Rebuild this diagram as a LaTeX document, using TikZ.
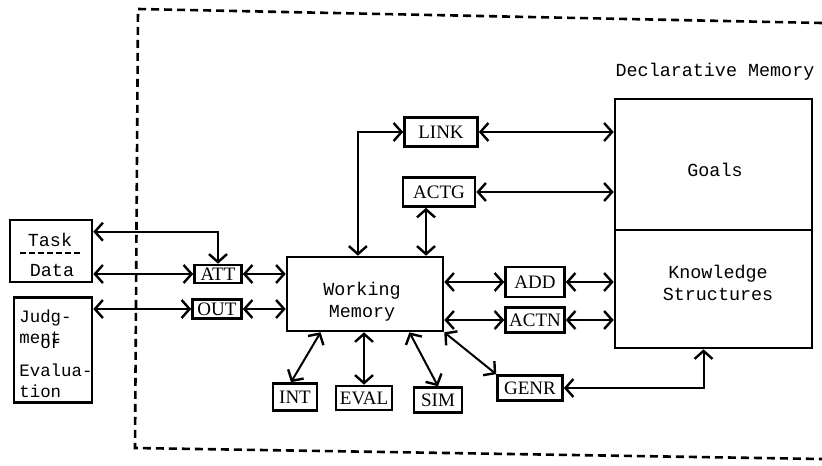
\documentclass[tikz,border=0pt]{standalone}
\usepackage{fontspec}
\setmainfont{Liberation Serif}
\setmonofont{Liberation Mono}
\usetikzlibrary{arrows.meta, calc, positioning}
\tikzset{
	box/.style={draw, line width=1.3pt, inner sep=0pt, font=\fontsize{9.5}{10}\selectfont},
	store/.style={draw, line width=1.3pt, inner sep=0pt},
	txt/.style={inner sep=0pt, font=\ttfamily\fontsize{9.2}{11}\selectfont, align=center},
	line/.style={draw, line width=1pt, {Straight Barb[length=4pt,width=9pt,line width=1.2pt]}-{Straight Barb[length=4pt,width=9pt,line width=1.2pt]}},
	frame/.style={draw, line width=1.3pt, dash pattern=on 4pt off 2.5pt}
}
\begin{document}
\begin{tikzpicture}[x=0.5pt, y=-0.5pt]
		\useasboundingbox (0,0) rectangle (822,465);
		\draw[frame] (822,23) -- (138,9) -- (135,448) -- (822,459);
		% declarative memory
		\node[txt] (dmlab) at (715,72) {Declarative Memory};
		\node[store, minimum width=98.5pt, minimum height=65.5pt] (goals) at (713.5,164.5) {};
		\node[store, minimum width=98.5pt, minimum height=59pt] (know) at (713.5,289) {};
		\node[txt] (goalstext) at (715,170) {Goals};
		\node[txt] (knowtext) at (718,283) {Knowledge\\Structures};
		% working memory and processes
		\node[store, minimum width=78pt, minimum height=37pt] (wm) at (365,294) {};
		\node[txt] (wmtext) at (362,302) {Working\\Memory};
		\node[box, minimum width=36.5pt, minimum height=14.5pt] (link) at (441,132) {LINK};
		\node[box, minimum width=36pt, minimum height=14.5pt] (actg) at (439,192) {ACTG};
		\node[box, minimum width=29.5pt, minimum height=15pt] (add) at (535,282) {ADD};
		\node[box, minimum width=29.5pt, minimum height=12.5pt] (actn) at (535,320) {ACTN};
		\node[box, minimum width=32.5pt, minimum height=12.5pt] (genr) at (530,388) {GENR};
		\node[box, minimum width=22pt, minimum height=13.5pt] (int) at (295,397) {INT};
		\node[box, minimum width=28pt, minimum height=12pt] (eval) at (364,398) {EVAL};
		\node[box, minimum width=24pt, minimum height=12.5pt] (sim) at (438,400) {SIM};
		\node[box, minimum width=23.5pt, minimum height=9pt] (att) at (218,274) {ATT};
		\node[box, minimum width=24.5pt, minimum height=9.5pt] (out) at (217,309) {OUT};
		% environment
		\node[store, minimum width=41pt, minimum height=31pt] (taskbox) at (51,251) {};
		\node[txt] (task) at (50,240) {Task};
		\node[txt] (data) at (52,270) {Data};
		\draw[line width=1pt, dash pattern=on 3pt off 1.5pt] (20,253) -- (82,253);
		\node[store, minimum width=39pt, minimum height=52.5pt] (judg) at (53,350) {};
		\node[txt, align=left, font=\ttfamily\fontsize{8.7}{10.5}\selectfont, anchor=north west] (judgtext) at (19,309)
			{Judg-\\ment\llap{\raisebox{-0.3em}{or}}\\[6pt]Evalua-\\tion};
		% connectors
		\draw[line] (link.east) -- (link.east -| goals.west);
		\draw[line] (link.west) -| ($(wm.north west)!0.455!(wm.north east)$);
		\draw[line] (actg.east) -- (actg.east -| goals.west);
		\draw[line] ([xshift=-6.5pt]actg.south) -- ([xshift=-6.5pt]actg.south |- wm.north);
		\draw[line] (add.west -| wm.east) -- (add.west);
		\draw[line] (add.east) -- (add.east -| know.west);
		\draw[line] (actn.west -| wm.east) -- (actn.west);
		\draw[line] (actn.east) -- (actn.east -| know.west);
		\draw[line] (wm.south east) -- (genr.north west);
		\draw[line] (genr.east) -| ([xshift=-5pt]know.south);
		\draw[line] ($(wm.south west)!0.22!(wm.south east)$) -- ([xshift=-2pt]int.north);
		\draw[line] (eval.north |- wm.south) -- (eval.north);
		\draw[line] ($(wm.south west)!0.78!(wm.south east)$) -- (sim.north);
		\draw[line] (att.east) -- (att.east -| wm.west);
		\draw[line] (out.east) -- (out.east -| wm.west);
		\draw[line] (att.west -| taskbox.east) -- (att.west);
		\draw[line] ([yshift=-6.5pt]taskbox.north east) -| (att.north);
		\draw[line] (out.west -| judg.east) -- (out.west);
\end{tikzpicture}
\end{document}
